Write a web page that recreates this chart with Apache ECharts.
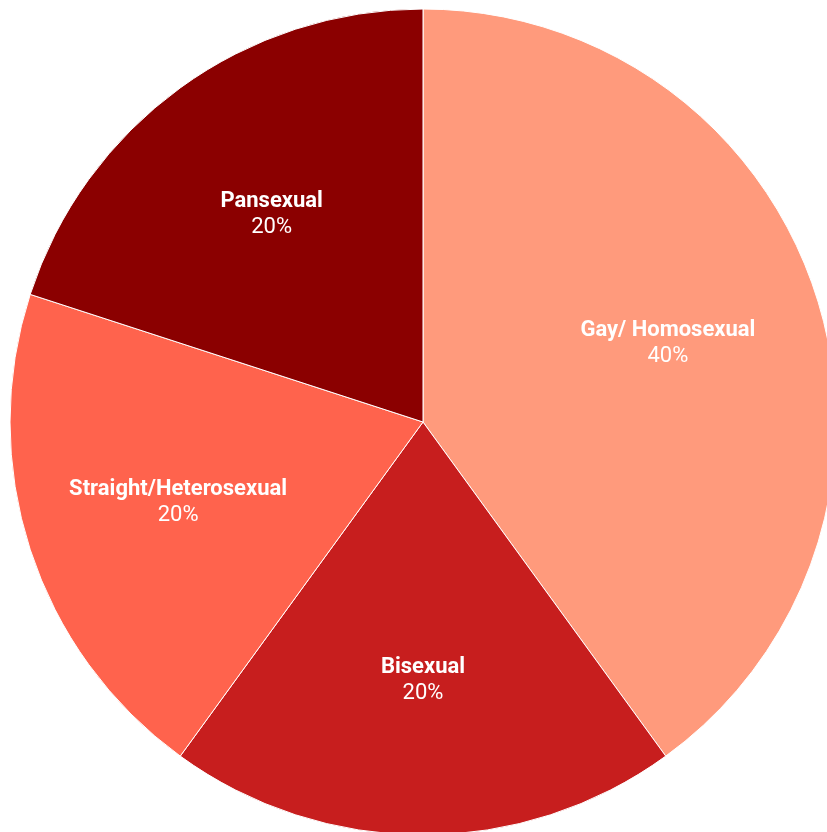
<!DOCTYPE html>
<html>
<head>
<meta charset="utf-8">
<script src="https://cdn.jsdelivr.net/npm/echarts@6/dist/echarts.min.js"></script>
<style>
html, body { margin: 0; padding: 0; background: #ffffff; }
#chart { width: 827px; height: 832px; }
</style>
</head>
<body>
<div id="chart"></div>
<script>
// Orientation shares
const categories = ['Gay/ Homosexual', 'Bisexual', 'Straight/Heterosexual', 'Pansexual'];
const shares = [40, 20, 20, 20];
const colors = ['#FF9A7C', '#C71E1E', '#FF634D', '#8B0000'];

const sliceData = categories.map((name, i) => ({
  name: name,
  value: shares[i],
  itemStyle: { color: colors[i] }
}));

const labelData = categories.map((name, i) => ({
  name: name,
  value: shares[i]
}));

const center = [423, 422];
const R = 413;

const chart = echarts.init(document.getElementById('chart'), null, { renderer: 'canvas' });
chart.setOption({
  animation: false,
  series: [
    {
      type: 'pie',
      center: center,
      radius: [0, R],
      startAngle: 90,
      clockwise: true,
      silent: true,
      itemStyle: { borderColor: '#ffffff', borderWidth: 1 },
      label: { show: false },
      labelLine: { show: false },
      data: sliceData
    },
    {
      // transparent ring whose mid-radius carries the labels
      type: 'pie',
      center: [423, 423],
      radius: [96, R],
      startAngle: 90,
      clockwise: true,
      silent: true,
      itemStyle: { color: 'rgba(0,0,0,0)' },
      label: {
        show: true,
        position: 'inside',
        formatter: p => '{n|' + p.name + '}\n{v|' + p.value + '%}',
        rich: {
          n: { fontFamily: 'Roboto', fontWeight: 'bold', fontSize: 22, color: '#ffffff', lineHeight: 26, align: 'center' },
          v: { fontFamily: 'Roboto', fontWeight: 'normal', fontSize: 22, color: '#ffffff', lineHeight: 26, align: 'center' }
        }
      },
      labelLine: { show: false },
      data: labelData
    }
  ]
});
</script>
</body>
</html>
